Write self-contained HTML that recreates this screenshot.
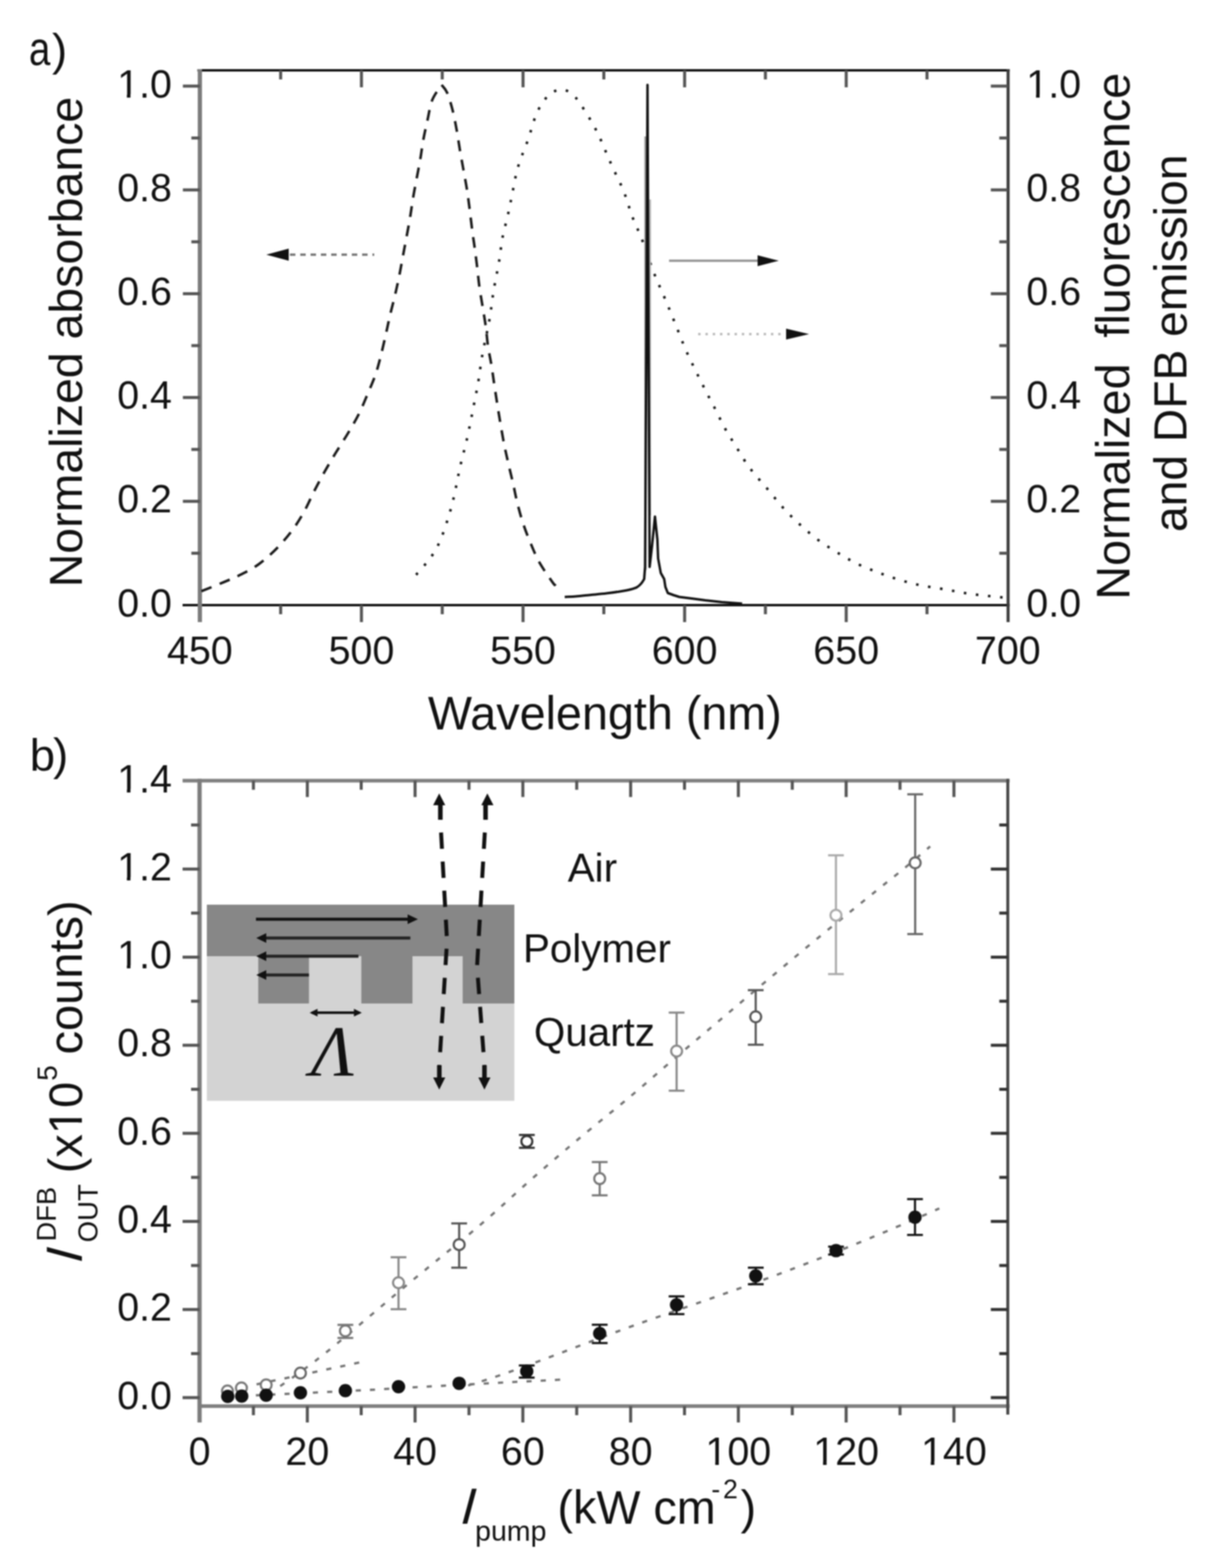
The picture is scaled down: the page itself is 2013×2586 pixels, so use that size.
<!DOCTYPE html>
<html><head><meta charset="utf-8"><title>Figure</title>
<style>html,body{margin:0;padding:0;background:#fff;}svg{display:block;filter:blur(1px);}</style>
</head><body>
<svg width="2013" height="2586" viewBox="0 0 2013 2586">
<rect width="2013" height="2586" fill="#fff"/>
<g fill="none" stroke-linecap="butt">
<line x1="325.5" y1="116" x2="1664.5" y2="116" stroke="#111" stroke-width="4"/>
<line x1="301" y1="998" x2="1664.5" y2="998" stroke="#111" stroke-width="4"/>
<line x1="329.5" y1="114" x2="329.5" y2="1026" stroke="#7c7c7c" stroke-width="7"/>
<line x1="1662" y1="114" x2="1662" y2="1026" stroke="#3a3a3a" stroke-width="5"/>
<line x1="315.5" y1="912.4" x2="329.5" y2="912.4" stroke="#555" stroke-width="5"/>
<line x1="1661.5" y1="912.4" x2="1647.5" y2="912.4" stroke="#555" stroke-width="5"/>
<line x1="301.5" y1="826.8" x2="329.5" y2="826.8" stroke="#555" stroke-width="5"/>
<line x1="1661.5" y1="826.8" x2="1633.5" y2="826.8" stroke="#555" stroke-width="5"/>
<line x1="315.5" y1="741.2" x2="329.5" y2="741.2" stroke="#555" stroke-width="5"/>
<line x1="1661.5" y1="741.2" x2="1647.5" y2="741.2" stroke="#555" stroke-width="5"/>
<line x1="301.5" y1="655.6" x2="329.5" y2="655.6" stroke="#555" stroke-width="5"/>
<line x1="1661.5" y1="655.6" x2="1633.5" y2="655.6" stroke="#555" stroke-width="5"/>
<line x1="315.5" y1="570" x2="329.5" y2="570" stroke="#555" stroke-width="5"/>
<line x1="1661.5" y1="570" x2="1647.5" y2="570" stroke="#555" stroke-width="5"/>
<line x1="301.5" y1="484.4" x2="329.5" y2="484.4" stroke="#555" stroke-width="5"/>
<line x1="1661.5" y1="484.4" x2="1633.5" y2="484.4" stroke="#555" stroke-width="5"/>
<line x1="315.5" y1="398.8" x2="329.5" y2="398.8" stroke="#555" stroke-width="5"/>
<line x1="1661.5" y1="398.8" x2="1647.5" y2="398.8" stroke="#555" stroke-width="5"/>
<line x1="301.5" y1="313.2" x2="329.5" y2="313.2" stroke="#555" stroke-width="5"/>
<line x1="1661.5" y1="313.2" x2="1633.5" y2="313.2" stroke="#555" stroke-width="5"/>
<line x1="315.5" y1="227.6" x2="329.5" y2="227.6" stroke="#555" stroke-width="5"/>
<line x1="1661.5" y1="227.6" x2="1647.5" y2="227.6" stroke="#555" stroke-width="5"/>
<line x1="301.5" y1="142" x2="329.5" y2="142" stroke="#555" stroke-width="5"/>
<line x1="1661.5" y1="142" x2="1633.5" y2="142" stroke="#555" stroke-width="5"/>
<line x1="462.7" y1="998" x2="462.7" y2="1013" stroke="#555" stroke-width="5"/>
<line x1="462.7" y1="116" x2="462.7" y2="131" stroke="#555" stroke-width="5"/>
<line x1="595.9" y1="998" x2="595.9" y2="1026" stroke="#555" stroke-width="5"/>
<line x1="595.9" y1="116" x2="595.9" y2="144" stroke="#555" stroke-width="5"/>
<line x1="729.1" y1="998" x2="729.1" y2="1013" stroke="#555" stroke-width="5"/>
<line x1="729.1" y1="116" x2="729.1" y2="131" stroke="#555" stroke-width="5"/>
<line x1="862.3" y1="998" x2="862.3" y2="1026" stroke="#555" stroke-width="5"/>
<line x1="862.3" y1="116" x2="862.3" y2="144" stroke="#555" stroke-width="5"/>
<line x1="995.5" y1="998" x2="995.5" y2="1013" stroke="#555" stroke-width="5"/>
<line x1="995.5" y1="116" x2="995.5" y2="131" stroke="#555" stroke-width="5"/>
<line x1="1128.7" y1="998" x2="1128.7" y2="1026" stroke="#555" stroke-width="5"/>
<line x1="1128.7" y1="116" x2="1128.7" y2="144" stroke="#555" stroke-width="5"/>
<line x1="1261.9" y1="998" x2="1261.9" y2="1013" stroke="#555" stroke-width="5"/>
<line x1="1261.9" y1="116" x2="1261.9" y2="131" stroke="#555" stroke-width="5"/>
<line x1="1395.1" y1="998" x2="1395.1" y2="1026" stroke="#555" stroke-width="5"/>
<line x1="1395.1" y1="116" x2="1395.1" y2="144" stroke="#555" stroke-width="5"/>
<line x1="1528.3" y1="998" x2="1528.3" y2="1013" stroke="#555" stroke-width="5"/>
<line x1="1528.3" y1="116" x2="1528.3" y2="131" stroke="#555" stroke-width="5"/>
</g>
<g style="font-family:'Liberation Sans',Arial,sans-serif" font-size="65" fill="#111">
<text x="283.5" y="1016.5" text-anchor="end">0.0</text>
<text x="1692" y="1016.5">0.0</text>
<text x="283.5" y="845.3" text-anchor="end">0.2</text>
<text x="1692" y="845.3">0.2</text>
<text x="283.5" y="674.1" text-anchor="end">0.4</text>
<text x="1692" y="674.1">0.4</text>
<text x="283.5" y="502.9" text-anchor="end">0.6</text>
<text x="1692" y="502.9">0.6</text>
<text x="283.5" y="331.7" text-anchor="end">0.8</text>
<text x="1692" y="331.7">0.8</text>
<text x="283.5" y="160.5" text-anchor="end">1.0</text>
<text x="1692" y="160.5">1.0</text>
<text x="329.5" y="1094.5" text-anchor="middle">450</text>
<text x="595.9" y="1094.5" text-anchor="middle">500</text>
<text x="862.3" y="1094.5" text-anchor="middle">550</text>
<text x="1128.7" y="1094.5" text-anchor="middle">600</text>
<text x="1395.1" y="1094.5" text-anchor="middle">650</text>
<text x="1661.5" y="1094.5" text-anchor="middle">700</text>
</g>
<g style="font-family:'Liberation Sans',Arial,sans-serif" font-size="77" fill="#111">
<text x="705.5" y="1202.5">Wavelength (nm)</text>
<text transform="translate(135,564) rotate(-90)" text-anchor="middle" font-size="76.6">Normalized absorbance</text>
<text transform="translate(1862,554.5) rotate(-90)" text-anchor="middle">Normalized&#160; fluorescence</text>
<text transform="translate(1956,566.2) rotate(-90)" text-anchor="middle" font-size="76.2">and DFB emission</text>
<text transform="translate(47.8,106.9) scale(0.845,1.045)" font-size="75">a</text>
<text x="85.8" y="107.8" font-size="75">)</text>
<text x="49" y="1271" font-size="75">b</text>
<text x="87.4" y="1269.5" font-size="75">)</text>
</g>
<path d="M332,975 C338,972.6 357,965.1 368,960.5 C379,955.9 388.2,952.2 398,947.2 C407.8,942.2 416.9,937.6 426.6,930.5 C436.3,923.4 447.1,913.8 456.2,904.5 C465.3,895.2 474,885 481.5,875 C489,865 495.1,855 501,844.5 C506.9,834 511.5,822.8 517,812 C522.5,801.2 527.8,791 534,780 C540.2,769 547.3,757 554,746 C560.7,735 567.7,724.7 574,714 C580.3,703.3 586.7,692.7 592,682 C597.3,671.3 601.5,660.7 606,650 C610.5,639.3 615.3,628.7 619,618 C622.7,607.3 625.2,597 628,586 C630.8,575 633.5,563 636,552 C638.5,541 640.5,530.7 643,520 C645.5,509.3 648.5,498.7 651,488 C653.5,477.3 655.8,466.7 658,456 C660.2,445.3 662,434.7 664,424 C666,413.3 668,402.8 670,392 C672,381.2 674.2,369.9 676,359 C677.8,348.1 679.2,337.4 681,326.6 C682.8,315.8 685,304.8 687,294 C689,283.2 691.2,272.7 693,262 C694.8,251.3 696,240.8 698,230 C700,219.2 702.6,207.8 705,197 C707.4,186.2 708.8,174.5 712.6,165 C716.4,155.5 725.4,144.2 728,140 C729.5,142.1 734,145.8 737,152.6 C740,159.4 743.4,170.9 746,181 C748.6,191.1 750.7,202.6 752.7,213.4 C754.7,224.2 756.2,235.2 758,246 C759.8,256.8 761.8,267.2 763.7,278 C765.6,288.8 767.8,299.7 769.5,310.5 C771.2,321.3 772.5,330.9 774,342.8 C775.5,354.7 777.4,371.1 778.8,382 C780.2,392.9 781.2,398.3 782.5,408 C783.8,417.7 785.3,429 786.6,440 C787.9,451 789,463 790.5,474 C792,485 794,495.3 795.7,506 C797.4,516.7 799.3,527.2 800.8,538 C802.3,548.8 802.9,559.7 804.5,570.5 C806.1,581.3 808.5,592 810.3,602.7 C812,613.5 813.4,624.3 815,635 C816.6,645.7 818.3,656.8 819.9,667 C821.5,677.2 822.9,685.7 824.7,696.5 C826.6,707.3 828.8,720.8 831,732 C833.2,743.2 835.5,753 838,764 C840.5,775 843.5,787 846,798 C848.5,809 850.3,819.3 853,830 C855.7,840.7 858.5,851.3 862,862 C865.5,872.7 869.5,883.2 874,894 C878.5,904.8 883,916.2 889,927 C895,937.8 905.5,952.5 910,959 C914.5,965.5 915,964.8 916,966" fill="none" stroke="#1a1a1a" stroke-width="4.2" stroke-dasharray="18 14.25"/>
<path d="M686,948 C688.8,944.8 697.9,934.9 703,928.5 C708.1,922.1 712.7,916 716.5,909.8 C720.3,903.5 723.2,897.2 726,890.8 C728.8,884.2 731.2,877.5 733.5,870.8 C735.8,864 738,857.1 740,850.5 C742,843.9 743.8,837.5 745.5,831 C747.2,824.5 748.6,818.2 750,811.8 C751.4,805.2 752.7,798.5 754,792 C755.3,785.5 756.6,778.9 758,772.5 C759.4,766.1 760.9,759.9 762.5,753.5 C764.1,747.1 765.9,740.6 767.5,734 C769.1,727.4 770.6,720.6 772,714 C773.4,707.4 774.7,700.9 776,694.5 C777.3,688.1 778.5,681.9 779.8,675.5 C781,669.1 782.2,662.7 783.5,656.2 C784.8,649.8 786.2,643.2 787.4,636.8 C788.5,630.2 789.5,623.7 790.4,617.2 C791.4,610.8 792.1,604.4 793.1,598 C794.1,591.6 795.2,585.4 796.4,579 C797.6,572.6 798.9,566.2 800.2,559.8 C801.6,553.3 803.1,546.8 804.4,540.2 C805.7,533.8 807,527.2 808.1,520.8 C809.1,514.2 809.8,507.8 810.7,501.2 C811.6,494.8 812.4,488.2 813.4,481.8 C814.4,475.2 815.7,468.8 816.9,462.2 C818.1,455.8 819.5,449.3 820.7,442.8 C821.9,436.2 823.1,429.6 824.1,423 C825.1,416.4 825.6,409.9 826.6,403.4 C827.6,397 828.6,390.7 830,384.2 C831.3,377.8 833.3,371.3 834.9,364.8 C836.4,358.3 838,351.7 839.4,345.2 C840.8,338.7 842,332.2 843.3,325.6 C844.6,319.1 845.9,312.4 847.2,305.9 C848.5,299.3 849.6,292.9 851.2,286.4 C852.8,280 854.4,273.8 856.5,267.3 C858.7,260.9 861.4,254.4 863.8,247.9 C866.3,241.4 869.1,234.8 871.3,228.3 C873.5,221.9 875.2,215.5 877.2,209.2 C879.3,202.8 880.9,196.3 883.4,190.3 C885.9,184.3 888.9,178.1 892,173 C895.1,167.9 898.7,163.2 902.2,159.5 C905.8,155.8 909.5,153 913.2,151 C917,149 921,147.9 924.8,147.8 C928.5,147.6 932.2,148.6 935.8,150.2 C939.2,151.9 942.6,154.6 945.8,157.5 C948.9,160.4 951.5,163.7 954.5,167.8 C957.5,171.8 960.3,176.6 963.8,182.1 C967.2,187.5 971.5,194.3 975.1,200.6 C978.7,206.8 982.3,213.3 985.4,219.6 C988.5,225.9 991,232 993.7,238.2 C996.4,244.4 999,250.8 1001.8,257.1 C1004.5,263.4 1007.1,269.6 1010,276 C1012.9,282.3 1016.1,288.7 1019.1,295.2 C1022.2,301.7 1025.6,308.5 1028.2,315.1 C1030.8,321.7 1032.8,328.3 1035,334.8 C1037.2,341.2 1038.8,347.7 1041.1,353.9 C1043.4,360.2 1046.2,366.2 1048.8,372.2 C1051.3,378.3 1054,383.8 1056.5,390 C1059,396.2 1061.2,402.7 1063.5,409.2 C1065.8,415.8 1068.2,422.9 1070.5,429.2 C1072.8,435.6 1074.9,441.6 1077.1,447.5 C1079.4,453.4 1081.5,458.7 1084,464.5 C1086.5,470.3 1089.2,476.1 1091.9,482.2 C1094.5,488.4 1097.3,494.8 1100,501.2 C1102.7,507.7 1105.3,514.4 1108,521 C1110.7,527.6 1113.4,534.3 1116,540.8 C1118.6,547.2 1121,553.5 1123.5,559.8 C1126,566 1128.3,571.9 1131,578 C1133.7,584.1 1136.5,590 1139.5,596.2 C1142.5,602.5 1145.6,608.9 1148.8,615.2 C1151.9,621.6 1155.1,628.2 1158.4,634.6 C1161.6,641.1 1164.9,647.4 1168.2,653.8 C1171.6,660.2 1175,666.6 1178.4,673.1 C1181.7,679.7 1185,686.5 1188.2,692.9 C1191.5,699.3 1194.6,705.6 1198,711.5 C1201.4,717.4 1204.8,722.7 1208.4,728.4 C1211.9,734.1 1215.4,739.7 1219.2,745.6 C1222.9,751.6 1226.5,758.1 1230.6,764.2 C1234.8,770.2 1239.4,776.2 1244,782 C1248.7,787.7 1253.9,793.1 1258.7,798.7 C1263.5,804.3 1268.2,809.9 1272.8,815.5 C1277.3,821.1 1281.6,826.7 1286.2,832 C1290.9,837.3 1295.6,842.5 1300.5,847.5 C1305.4,852.5 1310.4,857.2 1315.5,862 C1320.6,866.8 1325.6,871.5 1331.2,876.2 C1336.9,881 1343,886.1 1349.2,890.8 C1355.5,895.4 1362.5,900 1369,904.2 C1375.5,908.5 1382,912.3 1388.2,916 C1394.5,919.7 1400.4,923.2 1406.7,926.5 C1412.9,929.8 1419.4,932.8 1425.8,935.5 C1432.2,938.2 1438.7,940.6 1444.9,943 C1451.1,945.4 1456.9,947.6 1463.1,949.8 C1469.3,951.9 1475.8,954 1482.2,956 C1488.5,958 1495.1,959.9 1501.4,961.5 C1507.8,963.1 1513.8,964.5 1520.2,965.8 C1526.5,967 1532.9,967.9 1539.4,969 C1545.9,970.1 1552.7,971.1 1559.2,972.2 C1565.8,973.4 1572.2,974.7 1578.7,975.9 C1585.1,977.1 1591.4,978.2 1597.8,979.2 C1604.2,980.1 1610.6,980.9 1617.1,981.6 C1623.6,982.3 1630.1,982.9 1636.5,983.6 C1643,984.3 1652.6,985.3 1655.8,985.6" fill="none" stroke="#1a1a1a" stroke-width="4.2" stroke-dasharray="4.2 15.8"/>
<line x1="1064" y1="225" x2="1064" y2="940" stroke="#9a9a9a" stroke-width="3.5"/>
<line x1="1071.8" y1="329" x2="1071.8" y2="850" stroke="#b8b8b8" stroke-width="3"/>
<path d="M931,984.5 C934.2,984.3 942.7,984.1 950,983.5 C957.3,982.9 966.7,981.8 975,981 C983.3,980.2 991.7,979.5 1000,978.5 C1008.3,977.5 1018.3,976.1 1025,975 C1031.7,973.9 1035.8,973.1 1040,972 C1044.2,970.9 1047.2,970.1 1050,968.5 C1052.8,966.9 1055,964.8 1057,962.5 C1059,960.2 1061.2,956.2 1062,955 L1063.5,935 L1066,500 L1067.5,140 L1069,500 L1071,935 L1075,900 L1079.8,852 L1083.8,890 L1085,921 L1089.4,945 L1095,955 L1097,968 L1101,978 L1110.5,981.5 L1120,984.5 L1140,987 L1162.6,990 L1190,993 L1223.5,995.5" fill="none" stroke="#111" stroke-width="4" stroke-linejoin="round"/>
<line x1="478" y1="420" x2="617" y2="420" stroke="#7a7a7a" stroke-width="4" stroke-dasharray="9 8"/>
<path d="M439,420 L476,410 L476,430 Z" fill="#111"/>
<line x1="1103" y1="430" x2="1252" y2="430" stroke="#999" stroke-width="4"/>
<path d="M1284,430 L1249,421 L1249,439 Z" fill="#111"/>
<line x1="1151" y1="551" x2="1292" y2="551" stroke="#bbb" stroke-width="4" stroke-dasharray="4 8"/>
<path d="M1334,551 L1296,542 L1296,560 Z" fill="#111"/>
<g fill="none">
<line x1="301" y1="1287.5" x2="1664.5" y2="1287.5" stroke="#808080" stroke-width="6"/>
<line x1="326" y1="2319" x2="1664.5" y2="2319" stroke="#808080" stroke-width="6"/>
<line x1="329" y1="1284.5" x2="329" y2="2346" stroke="#7c7c7c" stroke-width="7"/>
<line x1="1661.5" y1="1284.5" x2="1661.5" y2="2333" stroke="#4a4a4a" stroke-width="5"/>
<line x1="301" y1="2305" x2="329" y2="2305" stroke="#555" stroke-width="5"/>
<line x1="1661.5" y1="2305" x2="1633.5" y2="2305" stroke="#333" stroke-width="5"/>
<line x1="315" y1="2232.4" x2="329" y2="2232.4" stroke="#555" stroke-width="5"/>
<line x1="1661.5" y1="2232.4" x2="1647.5" y2="2232.4" stroke="#333" stroke-width="5"/>
<line x1="301" y1="2159.7" x2="329" y2="2159.7" stroke="#555" stroke-width="5"/>
<line x1="1661.5" y1="2159.7" x2="1633.5" y2="2159.7" stroke="#333" stroke-width="5"/>
<line x1="315" y1="2087.1" x2="329" y2="2087.1" stroke="#555" stroke-width="5"/>
<line x1="1661.5" y1="2087.1" x2="1647.5" y2="2087.1" stroke="#333" stroke-width="5"/>
<line x1="301" y1="2014.4" x2="329" y2="2014.4" stroke="#555" stroke-width="5"/>
<line x1="1661.5" y1="2014.4" x2="1633.5" y2="2014.4" stroke="#333" stroke-width="5"/>
<line x1="315" y1="1941.8" x2="329" y2="1941.8" stroke="#555" stroke-width="5"/>
<line x1="1661.5" y1="1941.8" x2="1647.5" y2="1941.8" stroke="#333" stroke-width="5"/>
<line x1="301" y1="1869.1" x2="329" y2="1869.1" stroke="#555" stroke-width="5"/>
<line x1="1661.5" y1="1869.1" x2="1633.5" y2="1869.1" stroke="#333" stroke-width="5"/>
<line x1="315" y1="1796.5" x2="329" y2="1796.5" stroke="#555" stroke-width="5"/>
<line x1="1661.5" y1="1796.5" x2="1647.5" y2="1796.5" stroke="#333" stroke-width="5"/>
<line x1="301" y1="1723.9" x2="329" y2="1723.9" stroke="#555" stroke-width="5"/>
<line x1="1661.5" y1="1723.9" x2="1633.5" y2="1723.9" stroke="#333" stroke-width="5"/>
<line x1="315" y1="1651.2" x2="329" y2="1651.2" stroke="#555" stroke-width="5"/>
<line x1="1661.5" y1="1651.2" x2="1647.5" y2="1651.2" stroke="#333" stroke-width="5"/>
<line x1="301" y1="1578.6" x2="329" y2="1578.6" stroke="#555" stroke-width="5"/>
<line x1="1661.5" y1="1578.6" x2="1633.5" y2="1578.6" stroke="#333" stroke-width="5"/>
<line x1="315" y1="1505.9" x2="329" y2="1505.9" stroke="#555" stroke-width="5"/>
<line x1="1661.5" y1="1505.9" x2="1647.5" y2="1505.9" stroke="#333" stroke-width="5"/>
<line x1="301" y1="1433.3" x2="329" y2="1433.3" stroke="#555" stroke-width="5"/>
<line x1="1661.5" y1="1433.3" x2="1633.5" y2="1433.3" stroke="#333" stroke-width="5"/>
<line x1="315" y1="1360.6" x2="329" y2="1360.6" stroke="#555" stroke-width="5"/>
<line x1="1661.5" y1="1360.6" x2="1647.5" y2="1360.6" stroke="#333" stroke-width="5"/>
<line x1="417.8" y1="2319" x2="417.8" y2="2334" stroke="#555" stroke-width="5"/>
<line x1="417.8" y1="1287.5" x2="417.8" y2="1302.5" stroke="#555" stroke-width="5"/>
<line x1="506.7" y1="2319" x2="506.7" y2="2346" stroke="#555" stroke-width="5"/>
<line x1="506.7" y1="1287.5" x2="506.7" y2="1314.5" stroke="#555" stroke-width="5"/>
<line x1="595.5" y1="2319" x2="595.5" y2="2334" stroke="#555" stroke-width="5"/>
<line x1="595.5" y1="1287.5" x2="595.5" y2="1302.5" stroke="#555" stroke-width="5"/>
<line x1="684.3" y1="2319" x2="684.3" y2="2346" stroke="#555" stroke-width="5"/>
<line x1="684.3" y1="1287.5" x2="684.3" y2="1314.5" stroke="#555" stroke-width="5"/>
<line x1="773.2" y1="2319" x2="773.2" y2="2334" stroke="#555" stroke-width="5"/>
<line x1="773.2" y1="1287.5" x2="773.2" y2="1302.5" stroke="#555" stroke-width="5"/>
<line x1="862" y1="2319" x2="862" y2="2346" stroke="#555" stroke-width="5"/>
<line x1="862" y1="1287.5" x2="862" y2="1314.5" stroke="#555" stroke-width="5"/>
<line x1="950.8" y1="2319" x2="950.8" y2="2334" stroke="#555" stroke-width="5"/>
<line x1="950.8" y1="1287.5" x2="950.8" y2="1302.5" stroke="#555" stroke-width="5"/>
<line x1="1039.7" y1="2319" x2="1039.7" y2="2346" stroke="#555" stroke-width="5"/>
<line x1="1039.7" y1="1287.5" x2="1039.7" y2="1314.5" stroke="#555" stroke-width="5"/>
<line x1="1128.5" y1="2319" x2="1128.5" y2="2334" stroke="#555" stroke-width="5"/>
<line x1="1128.5" y1="1287.5" x2="1128.5" y2="1302.5" stroke="#555" stroke-width="5"/>
<line x1="1217.3" y1="2319" x2="1217.3" y2="2346" stroke="#555" stroke-width="5"/>
<line x1="1217.3" y1="1287.5" x2="1217.3" y2="1314.5" stroke="#555" stroke-width="5"/>
<line x1="1306.2" y1="2319" x2="1306.2" y2="2334" stroke="#555" stroke-width="5"/>
<line x1="1306.2" y1="1287.5" x2="1306.2" y2="1302.5" stroke="#555" stroke-width="5"/>
<line x1="1395" y1="2319" x2="1395" y2="2346" stroke="#555" stroke-width="5"/>
<line x1="1395" y1="1287.5" x2="1395" y2="1314.5" stroke="#555" stroke-width="5"/>
<line x1="1483.8" y1="2319" x2="1483.8" y2="2334" stroke="#555" stroke-width="5"/>
<line x1="1483.8" y1="1287.5" x2="1483.8" y2="1302.5" stroke="#555" stroke-width="5"/>
<line x1="1572.7" y1="2319" x2="1572.7" y2="2346" stroke="#555" stroke-width="5"/>
<line x1="1572.7" y1="1287.5" x2="1572.7" y2="1314.5" stroke="#555" stroke-width="5"/>
</g>
<g style="font-family:'Liberation Sans',Arial,sans-serif" font-size="65" fill="#111">
<text x="283.5" y="2323.5" text-anchor="end">0.0</text>
<text x="283.5" y="2178.2" text-anchor="end">0.2</text>
<text x="283.5" y="2032.9" text-anchor="end">0.4</text>
<text x="283.5" y="1887.6" text-anchor="end">0.6</text>
<text x="283.5" y="1742.4" text-anchor="end">0.8</text>
<text x="283.5" y="1597.1" text-anchor="end">1.0</text>
<text x="283.5" y="1451.8" text-anchor="end">1.2</text>
<text x="283.5" y="1306.5" text-anchor="end">1.4</text>
<text x="329" y="2415.5" text-anchor="middle">0</text>
<text x="506.7" y="2415.5" text-anchor="middle">20</text>
<text x="684.3" y="2415.5" text-anchor="middle">40</text>
<text x="862" y="2415.5" text-anchor="middle">60</text>
<text x="1039.7" y="2415.5" text-anchor="middle">80</text>
<text x="1217.3" y="2415.5" text-anchor="middle">100</text>
<text x="1395" y="2415.5" text-anchor="middle">120</text>
<text x="1572.7" y="2415.5" text-anchor="middle">140</text>
</g>
<rect x="341" y="1492" width="507" height="323.5" fill="#d3d3d3"/>
<rect x="341" y="1492" width="507" height="85" fill="#878787"/>
<rect x="425.8" y="1576" width="83.6" height="79" fill="#878787"/>
<rect x="595.7" y="1576" width="84.3" height="79" fill="#878787"/>
<rect x="762.8" y="1576" width="85.2" height="79" fill="#878787"/>
<line x1="422" y1="1516" x2="675" y2="1516" stroke="#111" stroke-width="5"/>
<path d="M689,1516 L672,1508 L672,1524 Z" fill="#111"/>
<line x1="436" y1="1547" x2="676.5" y2="1547" stroke="#222" stroke-width="5"/>
<path d="M422.5,1547 L439,1539 L439,1555 Z" fill="#111"/>
<line x1="436" y1="1577" x2="591" y2="1577" stroke="#222" stroke-width="5"/>
<path d="M422.5,1577 L439,1569 L439,1585 Z" fill="#111"/>
<line x1="436" y1="1608" x2="509.4" y2="1608" stroke="#222" stroke-width="5"/>
<path d="M422.5,1608 L439,1600 L439,1616 Z" fill="#111"/>
<line x1="514" y1="1670.2" x2="593" y2="1670.2" stroke="#111" stroke-width="4.2"/>
<path d="M510.5,1670.2 L523.5,1663.8 L523.5,1676.6 Z" fill="#111"/>
<path d="M596.5,1670.2 L583.5,1663.8 L583.5,1676.6 Z" fill="#111"/>
<text x="512.5" y="1774" style="font-family:'Liberation Serif','Times New Roman',serif;font-style:italic" font-size="118" fill="#111">&#923;</text>
<path d="M724.1,1308.5 L714.1,1328 L734.1,1328 Z" fill="#111"/>
<line x1="726" y1="1326.5" x2="726" y2="1352" stroke="#111" stroke-width="7.5"/>
<path d="M726,1352 L737,1552 L724.3,1757" stroke="#111" stroke-width="6.5" fill="none" stroke-dasharray="27 21" stroke-dashoffset="27"/>
<line x1="724.3" y1="1757" x2="724.3" y2="1779" stroke="#111" stroke-width="7.5"/>
<path d="M724.1,1797 L714.1,1777 L734.1,1777 Z" fill="#111"/>
<path d="M803.5,1308.5 L793.5,1328 L813.5,1328 Z" fill="#111"/>
<line x1="800.5" y1="1326.5" x2="800.5" y2="1352" stroke="#111" stroke-width="7.5"/>
<path d="M800.5,1352 L786.5,1594 L798.7,1757" stroke="#111" stroke-width="6.5" fill="none" stroke-dasharray="27 21" stroke-dashoffset="27"/>
<line x1="798.7" y1="1757" x2="798.7" y2="1779" stroke="#111" stroke-width="7.5"/>
<path d="M798.6,1797 L788.6,1777 L808.6,1777 Z" fill="#111"/>
<g style="font-family:'Liberation Sans',Arial,sans-serif" font-size="66.5" fill="#111">
<text x="936" y="1453.5">Air</text>
<text x="862.2" y="1586.5">Polymer</text>
<text x="880.2" y="1724.5">Quartz</text>
</g>
<g fill="none" stroke="#737373" stroke-width="3.8" stroke-dasharray="8.5 15">
<path d="M462,2286 C466.4,2282.9 478.8,2274.5 488.3,2267.7 C497.8,2260.9 508,2253.5 519,2245.1 C530,2236.6 541.8,2227.2 554.3,2217 C566.8,2206.8 580.1,2195.5 593.9,2183.9 C607.7,2172.4 622.3,2159.9 636.9,2147.6 C651.5,2135.3 666.7,2122.6 681.7,2110.2 C696.8,2097.8 712.5,2085.1 727.3,2073 C742.1,2060.9 757,2049.1 770.7,2037.8 C784.3,2026.5 796.8,2015.9 809.2,2005.1 C821.6,1994.2 833.1,1983.6 845,1972.8 C857,1962.1 869,1951.1 881.1,1940.5 C893.2,1929.9 905.4,1919.4 917.6,1909 C929.7,1898.6 942,1888.3 954,1878.2 C966.1,1868.2 978.3,1858.2 989.6,1848.9 C1001,1839.6 1011.8,1831 1022.1,1822.5 C1032.5,1814 1041.4,1806.6 1051.7,1797.8 C1062,1789.1 1071.4,1780.8 1083.9,1770 C1096.5,1759.2 1109.8,1747.6 1127.2,1732.8 C1144.6,1718 1165,1700.8 1188.4,1681.1 C1211.8,1661.3 1240.1,1637.4 1267.7,1614.3 C1295.2,1591.3 1326.5,1565 1353.8,1542.6 C1381.1,1520.2 1408.4,1498.3 1431.2,1479.9 C1454,1461.5 1473.3,1446.4 1490.4,1432.4 C1507.4,1418.4 1526.3,1402.1 1533.5,1396"/>
<path d="M400,2288 L593,2247"/>
<path d="M375,2303.5 C392.5,2302.7 441.7,2300.3 480,2298.5 C518.3,2296.7 572.5,2294.2 605,2292.5 C637.5,2290.8 654.2,2289.7 675,2288.5 C695.8,2287.3 705.8,2286.8 730,2285.5 C754.2,2284.2 793.3,2282 820,2280.6 C846.7,2279.2 871.3,2278.1 890,2277.2 C908.7,2276.3 925,2275.4 932,2275"/>
<path d="M771.8,2285 C777.9,2283.1 795.9,2277.6 808.5,2273.4 C821.2,2269.3 833.8,2264.9 847.6,2259.9 C861.4,2255 875.9,2249.6 891.2,2243.9 C906.4,2238.2 922.5,2232.1 939,2225.8 C955.5,2219.6 972.3,2213 990.1,2206.3 C1007.9,2199.7 1026.1,2192.9 1045.7,2185.8 C1065.4,2178.7 1086.2,2171.5 1108,2163.8 C1129.9,2156.2 1153.5,2148 1176.7,2139.9 C1199.9,2131.7 1224,2123.2 1247.1,2114.8 C1270.3,2106.4 1293.1,2097.9 1315.5,2089.4 C1337.8,2080.8 1360,2072.1 1381.5,2063.5 C1403.1,2054.9 1424.9,2045.9 1444.7,2037.7 C1464.6,2029.4 1483.5,2021.4 1500.8,2014 C1518.1,2006.6 1540.6,1996.5 1548.6,1993"/>
</g>
<circle cx="375" cy="2294" r="9" fill="#fff" stroke="#777" stroke-width="3.5"/>
<circle cx="398" cy="2289" r="9" fill="#fff" stroke="#777" stroke-width="3.5"/>
<circle cx="438.8" cy="2284" r="9" fill="#fff" stroke="#777" stroke-width="3.5"/>
<circle cx="495.3" cy="2264.5" r="9" fill="#fff" stroke="#666" stroke-width="3.5"/>
<g stroke="#777" stroke-width="3.5" fill="none"><line x1="569.4" y1="2185" x2="569.4" y2="2206.6"/><line x1="556.4" y1="2185" x2="582.4" y2="2185"/><line x1="556.4" y1="2206.6" x2="582.4" y2="2206.6"/></g>
<circle cx="569.4" cy="2195" r="9" fill="#fff" stroke="#777" stroke-width="3.5"/>
<g stroke="#888" stroke-width="3.5" fill="none"><line x1="657" y1="2073.5" x2="657" y2="2159.2"/><line x1="644" y1="2073.5" x2="670" y2="2073.5"/><line x1="644" y1="2159.2" x2="670" y2="2159.2"/></g>
<circle cx="657" cy="2115.5" r="9" fill="#fff" stroke="#888" stroke-width="3.5"/>
<g stroke="#555" stroke-width="3.5" fill="none"><line x1="757" y1="2017.7" x2="757" y2="2090.7"/><line x1="744" y1="2017.7" x2="770" y2="2017.7"/><line x1="744" y1="2090.7" x2="770" y2="2090.7"/></g>
<circle cx="757" cy="2052.7" r="9" fill="#fff" stroke="#555" stroke-width="3.5"/>
<g stroke="#333" stroke-width="3.5" fill="none"><line x1="868.6" y1="1871.8" x2="868.6" y2="1893"/><line x1="855.6" y1="1871.8" x2="881.6" y2="1871.8"/><line x1="855.6" y1="1893" x2="881.6" y2="1893"/></g>
<circle cx="868.6" cy="1882.4" r="9" fill="#fff" stroke="#333" stroke-width="3.5"/>
<g stroke="#777" stroke-width="3.5" fill="none"><line x1="988.7" y1="1916.5" x2="988.7" y2="1971.4"/><line x1="975.7" y1="1916.5" x2="1001.7" y2="1916.5"/><line x1="975.7" y1="1971.4" x2="1001.7" y2="1971.4"/></g>
<circle cx="988.7" cy="1943.8" r="9" fill="#fff" stroke="#777" stroke-width="3.5"/>
<g stroke="#888" stroke-width="3.5" fill="none"><line x1="1115.5" y1="1670" x2="1115.5" y2="1798.8"/><line x1="1102.5" y1="1670" x2="1128.5" y2="1670"/><line x1="1102.5" y1="1798.8" x2="1128.5" y2="1798.8"/></g>
<circle cx="1115.5" cy="1733.5" r="9" fill="#fff" stroke="#888" stroke-width="3.5"/>
<g stroke="#555" stroke-width="3.5" fill="none"><line x1="1245.9" y1="1633" x2="1245.9" y2="1723"/><line x1="1232.9" y1="1633" x2="1258.9" y2="1633"/><line x1="1232.9" y1="1723" x2="1258.9" y2="1723"/></g>
<circle cx="1245.9" cy="1677" r="9" fill="#fff" stroke="#555" stroke-width="3.5"/>
<g stroke="#aaa" stroke-width="3.5" fill="none"><line x1="1378.2" y1="1410.6" x2="1378.2" y2="1606.5"/><line x1="1365.2" y1="1410.6" x2="1391.2" y2="1410.6"/><line x1="1365.2" y1="1606.5" x2="1391.2" y2="1606.5"/></g>
<circle cx="1378.2" cy="1509.4" r="9" fill="#fff" stroke="#aaa" stroke-width="3.5"/>
<g stroke="#666" stroke-width="3.5" fill="none"><line x1="1508.8" y1="1310" x2="1508.8" y2="1540.5"/><line x1="1495.8" y1="1310" x2="1521.8" y2="1310"/><line x1="1495.8" y1="1540.5" x2="1521.8" y2="1540.5"/></g>
<circle cx="1508.8" cy="1423" r="9" fill="#fff" stroke="#666" stroke-width="3.5"/>
<circle cx="375.5" cy="2303" r="11" fill="#111"/>
<circle cx="398.5" cy="2302.5" r="11" fill="#111"/>
<circle cx="438.8" cy="2301" r="11" fill="#111"/>
<circle cx="495.3" cy="2297" r="11" fill="#111"/>
<circle cx="569.4" cy="2293.5" r="11" fill="#111"/>
<circle cx="657" cy="2287" r="11" fill="#111"/>
<circle cx="757" cy="2281.4" r="11" fill="#111"/>
<g stroke="#111" stroke-width="3.5" fill="none"><line x1="868.4" y1="2252" x2="868.4" y2="2272"/><line x1="855.4" y1="2252" x2="881.4" y2="2252"/><line x1="855.4" y1="2272" x2="881.4" y2="2272"/></g>
<circle cx="868.4" cy="2261.5" r="11" fill="#111"/>
<g stroke="#111" stroke-width="3.5" fill="none"><line x1="988.7" y1="2184.8" x2="988.7" y2="2215"/><line x1="975.7" y1="2184.8" x2="1001.7" y2="2184.8"/><line x1="975.7" y1="2215" x2="1001.7" y2="2215"/></g>
<circle cx="988.7" cy="2199.3" r="11" fill="#111"/>
<g stroke="#111" stroke-width="3.5" fill="none"><line x1="1115.4" y1="2138" x2="1115.4" y2="2167.3"/><line x1="1102.4" y1="2138" x2="1128.4" y2="2138"/><line x1="1102.4" y1="2167.3" x2="1128.4" y2="2167.3"/></g>
<circle cx="1115.4" cy="2152" r="11" fill="#111"/>
<g stroke="#111" stroke-width="3.5" fill="none"><line x1="1246" y1="2090.7" x2="1246" y2="2118"/><line x1="1233" y1="2090.7" x2="1259" y2="2090.7"/><line x1="1233" y1="2118" x2="1259" y2="2118"/></g>
<circle cx="1246" cy="2104.2" r="11" fill="#111"/>
<g stroke="#111" stroke-width="3.5" fill="none"><line x1="1378.3" y1="2056" x2="1378.3" y2="2069"/><line x1="1365.3" y1="2056" x2="1391.3" y2="2056"/><line x1="1365.3" y1="2069" x2="1391.3" y2="2069"/></g>
<circle cx="1378.3" cy="2062.6" r="11" fill="#111"/>
<g stroke="#111" stroke-width="3.5" fill="none"><line x1="1508.5" y1="1977.6" x2="1508.5" y2="2036.7"/><line x1="1495.5" y1="1977.6" x2="1521.5" y2="1977.6"/><line x1="1495.5" y1="2036.7" x2="1521.5" y2="2036.7"/></g>
<circle cx="1508.5" cy="2007.5" r="11" fill="#111"/>
<g style="font-family:'Liberation Sans',Arial,sans-serif" font-size="77" fill="#111">
<text transform="translate(754.8,2513) skewX(-15)" font-size="84">I</text>
<text x="783.3" y="2540.5" font-size="47">pump</text>
<text x="919" y="2512.5">(kW cm</text>
<text x="1172.7" y="2470.5" font-size="44">-</text>
<text x="1192" y="2470.5" font-size="44">2</text>
<text x="1221" y="2512.5">)</text>
<g transform="translate(134.5,2080) rotate(-90)">
<text transform="translate(-7.5,0) skewX(-15)" font-size="84">I</text>
<text x="32.4" y="-43" font-size="45">DFB</text>
<text x="31" y="26" font-size="45.5">OUT</text>
<text x="145" y="0" font-size="77.5">(x10</text>
<rect x="235.8" y="-6" width="14.5" height="7.4" fill="#fff"/>
<rect x="213.8" y="-6" width="14.9" height="7.4" fill="#fff"/>
<text x="297.6" y="-41" font-size="46">5</text>
<text x="341" y="0" font-size="77.5">counts)</text>
</g>
</g>
<rect x="196.7" y="155.4" width="12.5" height="6.2" fill="#fff"/>
<rect x="215.1" y="155.4" width="12.2" height="6.2" fill="#fff"/>
<rect x="1695.6" y="155.4" width="12.5" height="6.2" fill="#fff"/>
<rect x="1714" y="155.4" width="12.2" height="6.2" fill="#fff"/>
<rect x="196.7" y="1592" width="12.5" height="6.2" fill="#fff"/>
<rect x="215.1" y="1592" width="12.2" height="6.2" fill="#fff"/>
<rect x="196.7" y="1446.7" width="12.5" height="6.2" fill="#fff"/>
<rect x="215.1" y="1446.7" width="12.2" height="6.2" fill="#fff"/>
<rect x="196.7" y="1301.4" width="12.5" height="6.2" fill="#fff"/>
<rect x="215.1" y="1301.4" width="12.2" height="6.2" fill="#fff"/>
<rect x="1166.7" y="2410.4" width="12.5" height="6.2" fill="#fff"/>
<rect x="1185.1" y="2410.4" width="12.2" height="6.2" fill="#fff"/>
<rect x="1344.4" y="2410.4" width="12.5" height="6.2" fill="#fff"/>
<rect x="1362.8" y="2410.4" width="12.2" height="6.2" fill="#fff"/>
<rect x="1522" y="2410.4" width="12.5" height="6.2" fill="#fff"/>
<rect x="1540.4" y="2410.4" width="12.2" height="6.2" fill="#fff"/>
</svg>
</body></html>
